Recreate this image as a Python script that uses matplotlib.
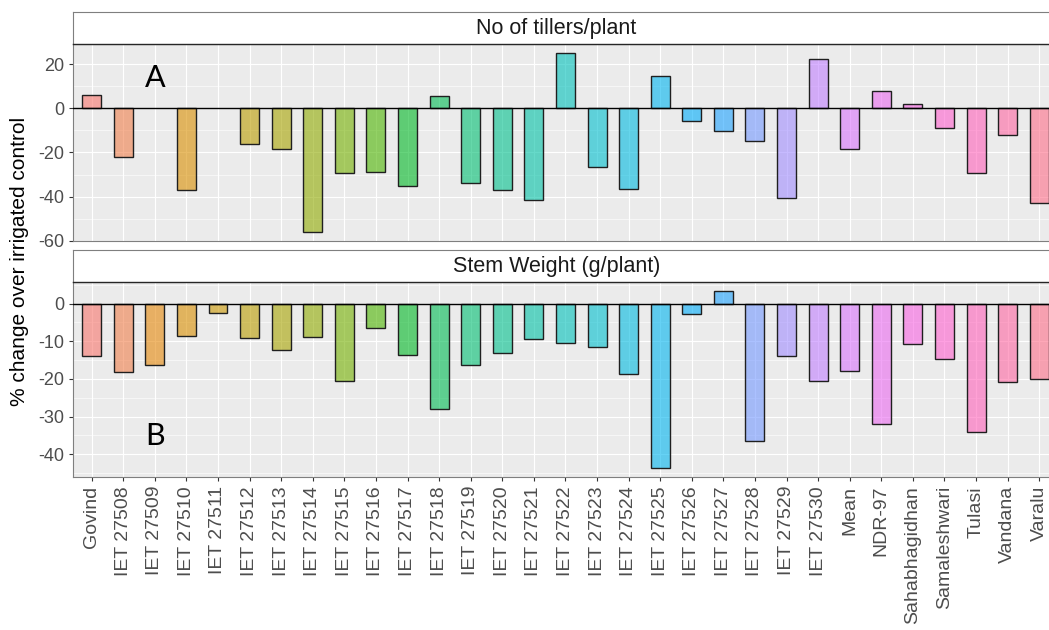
import numpy as np
import matplotlib
matplotlib.use("Agg")
import matplotlib.pyplot as plt

plt.rcParams['font.family'] = ['Liberation Sans', 'DejaVu Sans']
plt.rcParams['axes.unicode_minus'] = False

# genotypes, in the order of the x axis
genotypes = ["Govind"] + ["IET %d" % n for n in range(27508, 27531)] + \
    ["Mean", "NDR-97", "Sahabhagidhan", "Samaleshwari", "Tulasi", "Vandana", "Varalu"]

# % change over irrigated control (nan = no bar)
tillers = [6.1, -22.1, np.nan, -37.1, np.nan, -16.2, -18.3, -56.1, -29.1, -28.9,
           -35.3, 5.6, -33.8, -37.1, -41.5, 25.0, -26.7, -36.5, 14.7, -5.9,
           -10.3, -14.7, -40.6, 22.4, -18.5, 7.7, 1.8, -8.8, -29.2, -12.1, -43.0]
stem_weight = [-13.9, -18.1, -16.3, -8.7, -2.4, -9.2, -12.3, -8.8, -20.6, -6.5,
               -13.6, -28.1, -16.4, -13.2, -9.4, -10.4, -11.6, -18.6, -43.7, -2.7,
               3.3, -36.5, -13.8, -20.5, -17.9, -32.1, -10.7, -14.7, -34.0, -20.9, -19.9]

panel_titles = ["No of tillers/plant", "Stem Weight (g/plant)"]
panel_tags = ["A", "B"]


def hcl_to_rgb(h, c=100, l=65):
    # polar LUV -> sRGB, like R's hcl()
    xn, yn, zn = 95.047, 100.0, 108.883
    un = 4 * xn / (xn + 15 * yn + 3 * zn)
    vn = 9 * yn / (xn + 15 * yn + 3 * zn)
    u = c * np.cos(np.radians(h))
    v = c * np.sin(np.radians(h))
    y = yn * ((l + 16) / 116) ** 3
    up = u / (13 * l) + un
    vp = v / (13 * l) + vn
    x = y * 9 * up / (4 * vp)
    z = y * (12 - 3 * up - 20 * vp) / (4 * vp)
    x, y, z = x / 100, y / 100, z / 100
    r = 3.2404542 * x - 1.5371385 * y - 0.4985314 * z
    g = -0.9692660 * x + 1.8760108 * y + 0.0415560 * z
    b = 0.0556434 * x - 0.2040259 * y + 1.0572252 * z
    out = []
    for ch in (r, g, b):
        ch = 12.92 * ch if ch <= 0.0031308 else 1.055 * ch ** (1 / 2.4) - 0.055
        out.append(min(max(ch, 0), 1))
    return out


n = len(genotypes)
hues = np.linspace(15, 375, n + 1)[:n]
colors = [hcl_to_rgb(h) for h in hues]
xpos = np.arange(n)

fig = plt.figure(figsize=(10.49, 6.30), dpi=100)

W, H = 1049.0, 630.0
left = 72.7 / W
width = (1058.2 - 72.7) / W
# (strip top, panel top, panel bottom) in pixels
rows = [(12.3, 44.3, 241.0), (250.0, 282.3, 477.0)]

for k, (data, title, tag) in enumerate(zip([tillers, stem_weight], panel_titles, panel_tags)):
    st, pt, pb = rows[k]
    ax = fig.add_axes([left, 1 - pb / H, width, (pb - pt) / H])
    sax = fig.add_axes([left, 1 - pt / H, width, (pt - st) / H])

    vals = np.array(data, dtype=float)
    lo, hi = np.nanmin(vals), np.nanmax(vals)
    pad = 0.05 * (hi - lo)
    ax.set_ylim(lo - pad, hi + pad)
    ax.set_xlim(-0.6, n - 0.4)

    ax.set_facecolor("#EBEBEB")
    if k == 0:
        ax.set_yticks([-60, -40, -20, 0, 20])
        ax.set_yticks([-50, -30, -10, 10], minor=True)
    else:
        ax.set_yticks([-40, -30, -20, -10, 0])
        ax.set_yticks([-45, -35, -25, -15, -5, 5], minor=True)
    ax.set_xticks(xpos)
    ax.grid(True, which="major", color="white", linewidth=0.8)
    ax.grid(True, which="minor", axis="y", color="white", linewidth=0.4)
    ax.set_axisbelow(True)

    ax.bar(xpos, vals, width=0.6, color=colors, alpha=0.6, zorder=2)
    ax.bar(xpos, vals, width=0.6, facecolor="none", edgecolor="#1F1F1F",
           linewidth=1.0, zorder=3)
    ax.axhline(0, color="black", linewidth=1.0, zorder=4)

    for sp in ax.spines.values():
        sp.set_color("#7F7F7F")
        sp.set_linewidth(0.8)

    ax.tick_params(axis="y", which="major", length=2.9, width=0.8, color="#333333",
                   labelsize=13, labelcolor="#4D4D4D", pad=3)
    ax.tick_params(axis="y", which="minor", length=0)
    if k == 0:
        ax.tick_params(axis="x", length=0, labelbottom=False)
    else:
        ax.set_xticklabels(genotypes, rotation=90, ha="center", va="top")
        ax.tick_params(axis="x", length=2.9, width=0.8, color="#333333",
                       labelsize=14, labelcolor="#4D4D4D", pad=3.5)

    # facet strip
    sax.set_xticks([])
    sax.set_yticks([])
    sax.set_facecolor("white")
    for sp in sax.spines.values():
        sp.set_color("#7F7F7F")
        sp.set_linewidth(0.8)
    sax.spines["bottom"].set_color("#262626")
    sax.spines["bottom"].set_linewidth(1.0)
    sax.text(0.491, 0.5, title, transform=sax.transAxes, ha="center", va="center",
             fontsize=15.5, color="#1A1A1A")

    fig.text(155 / W, 1 - (78 if k == 0 else 436) / H, tag, family=["Lato", "DejaVu Sans"],
             fontsize=22, ha="center", va="center", color="black")

fig.text(20 / W, 1 - 261 / H, "% change over irrigated control", rotation=90,
         ha="center", va="center", fontsize=15, color="black")

fig.savefig("out.png", dpi=100)
